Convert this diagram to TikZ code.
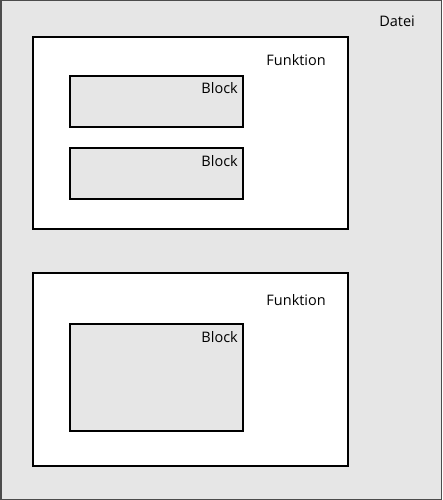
\documentclass[tikz,border=0pt]{standalone}
\usepackage{fontspec}
\setmainfont{Open Sans}
\definecolor{bg}{HTML}{E6E6E6}
\begin{document}
\begin{tikzpicture}[x=1pt,y=-1pt,
  datei/.style={draw=black!70,fill=bg,line width=1.5pt},
  funk/.style={draw=black,fill=white,line width=2.2pt},
  blockbox/.style={draw=black,fill=bg,line width=2.2pt},
  lbl/.style={font=\fontsize{14.5}{16}\selectfont,inner sep=0pt,anchor=base east}]
\useasboundingbox (0,0) rectangle (442,500);
\draw[datei] (0.75,0.75) rectangle (441.25,499.25);
\node[lbl] (tdatei) at (415,27) {Datei};
\draw[funk] (33,37) rectangle (348,229);
\node[lbl] (tf1) at (326,66) {Funktion};
\draw[blockbox] (70,76) rectangle (243,127);
\node[lbl] (tb1) at (238,94) {Block};
\draw[blockbox] (70,148) rectangle (243,199);
\node[lbl] (tb2) at (238,166) {Block};
\draw[funk] (33,273) rectangle (348,466);
\node[lbl] (tf2) at (326,305) {Funktion};
\draw[blockbox] (70,324) rectangle (243,431);
\node[lbl] (tb3) at (238,342) {Block};
\end{tikzpicture}
\end{document}
